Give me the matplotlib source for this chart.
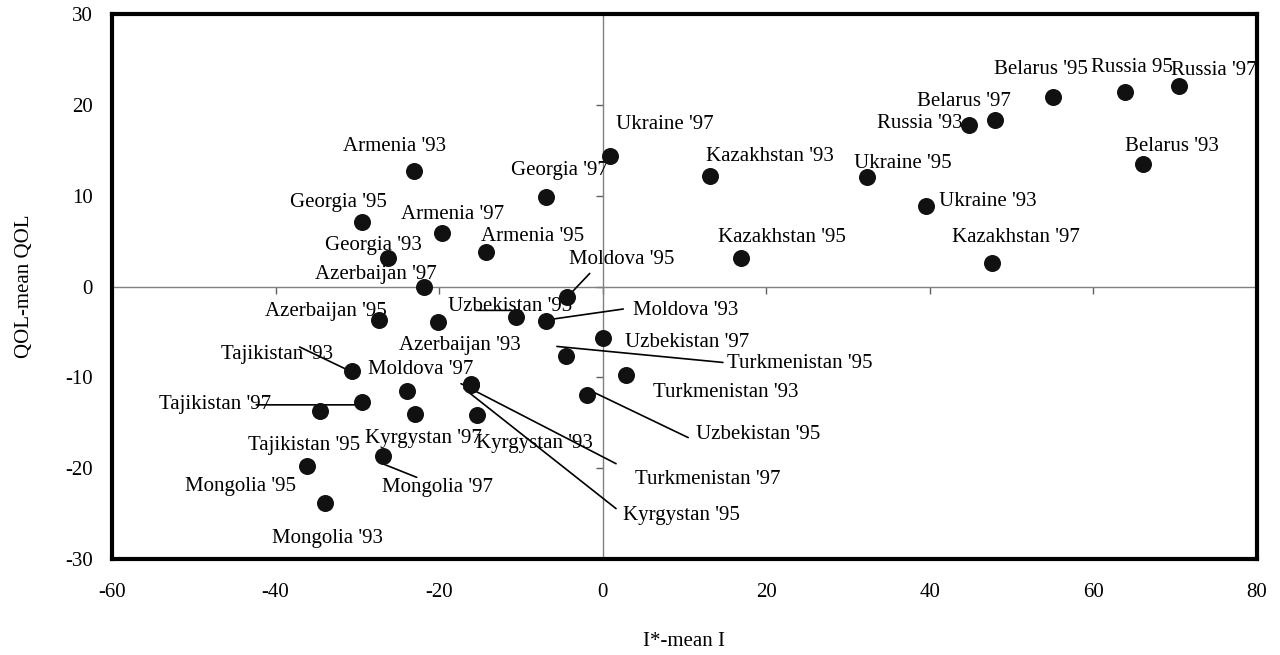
import matplotlib
matplotlib.use("Agg")
import matplotlib.pyplot as plt
import matplotlib.transforms as mtransforms

plt.rcParams['font.family'] = ['Liberation Serif', 'DejaVu Serif']
plt.rcParams['axes.unicode_minus'] = False

# ---- data ----
labels = [
    "Armenia '93", "Ukraine '97", "Georgia '97", "Georgia '95", "Armenia '97",
    "Georgia '93", "Armenia '95", "Azerbaijan '97", "Moldova '95", "Azerbaijan '95",
    "Azerbaijan '93", "Uzbekistan '93", "Moldova '93", "Uzbekistan '97", "Turkmenistan '95",
    "Turkmenistan '93", "Tajikistan '93", "Moldova '97", "Turkmenistan '97", "Kyrgystan '95",
    "Tajikistan '97", "Tajikistan '95", "Kyrgystan '97", "Kyrgystan '93", "Uzbekistan '95",
    "Mongolia '97", "Mongolia '95", "Mongolia '93", "Belarus '95", "Russia 95",
    "Russia '97", "Belarus '97", "Russia '93", "Belarus '93", "Ukraine '95",
    "Ukraine '93", "Kazakhstan '97", "Kazakhstan '93", "Kazakhstan '95",
]
x_vals = [
    -23.1, 0.9, -6.9, -29.4, -19.6,
    -26.2, -14.3, -21.8, -4.4, -27.3,
    -20.2, -10.6, -6.9, 0.0, -4.5,
    2.8, -30.7, -23.9, -16.1, -16.1,
    -29.4, -34.6, -23.0, -15.4, -1.9,
    -26.9, -36.1, -33.9, 55.0, 63.9,
    70.5, 48.0, 44.8, 66.1, 32.3,
    39.5, 47.6, 13.1, 16.9,
]
y_vals = [
    12.7, 14.4, 9.8, 7.1, 5.9,
    3.1, 3.8, -0.1, -1.2, -3.7,
    -3.9, -3.4, -3.8, -5.7, -7.7,
    -9.7, -9.3, -11.5, -10.7, -10.8,
    -12.7, -13.7, -14.0, -14.2, -11.9,
    -18.7, -19.8, -23.8, 20.9, 21.4,
    22.1, 18.3, 17.8, 13.5, 12.1,
    8.9, 2.6, 12.2, 3.1,
]
x_ticks = [-60, -40, -20, 0, 20, 40, 60, 80]
y_ticks = [-30, -20, -10, 0, 10, 20, 30]

# ---- label placement (pixel offsets of label centre from its point, y up) ----
label_offsets = [
    (-19, 25), (55, 31), (13, 27), (-24, 20), (10, 18),
    (-15, 13), (47, 15), (-49, 13), (55, 38), (-54, 9),
    (22, -24), (-6, 11), (139, 11), (84, -4), (234, -7),
    (100, -18), (-75, 16), (13, 21), (237, -96), (210, -131),
    (-147, -3), (-16, -35), (9, -25), (58, -28), (171, -40),
    (55, -31), (-67, -20), (2, -36), (-12, 27), (7, 25),
    (35, 15), (-31, 19), (-49, 1), (29, 17), (36, 13),
    (62, 4), (24, 25), (60, 19), (41, 21),
]
# leader lines: label -> ((start dx, dy), (end dx, dy)) in pixels relative to point
leaders = {
    "Moldova '95": ((23, 24), (5, 5)),
    "Uzbekistan '93": ((-40, 7), (-4, 7)),
    "Moldova '93": ((77, 12), (7, 2)),
    "Turkmenistan '95": ((157, -6), (-9, 10)),
    "Tajikistan '93": ((-52, 24), (-6, 2)),
    "Tajikistan '97": ((-106, -3), (-6, -3)),
    "Uzbekistan '95": ((101, -43), (3, 4)),
    "Turkmenistan '97": ((145, -80), (-10, 0)),
    "Kyrgystan '95": ((145, -124), (-7, -4)),
    "Mongolia '97": ((34, -21), (-1, -7)),
}

W, H = 1280, 655
fig = plt.figure(figsize=(W / 100, H / 100), dpi=100)
left, right, top, bottom = 112, 1257, 14, 559
rect = [left / W, 1 - bottom / H, (right - left) / W, (bottom - top) / H]

ax = fig.add_axes(rect)
ax.set_xlim(-60, 80)
ax.set_ylim(-30, 30)
for s in ['top', 'right']:
    ax.spines[s].set_visible(False)
ax.spines['left'].set_position(('data', 0))
ax.spines['bottom'].set_position(('data', 0))
for s in ['left', 'bottom']:
    ax.spines[s].set_color('#808080')
    ax.spines[s].set_linewidth(1.0)
ax.set_xticks(x_ticks)
ax.set_yticks(y_ticks)
ax.tick_params(direction='out', length=5, width=1.0, color='#606060',
               labelleft=False, labelbottom=False)
ax.patch.set_visible(False)

# points
ax.scatter(x_vals, y_vals, s=150, color='#111111', zorder=5, linewidths=0)

# labels and leaders
for lab, xv, yv, (dx, dy) in zip(labels, x_vals, y_vals, label_offsets):
    ax.annotate(lab, xy=(xv, yv), xytext=(dx, dy), textcoords='offset pixels',
                ha='center', va='center', fontsize=15, color='black', zorder=3,
                annotation_clip=False)
    if lab in leaders:
        (sx, sy), (ex, ey) = leaders[lab]
        end_tr = mtransforms.offset_copy(ax.transData, fig=fig, x=ex, y=ey,
                                         units='dots')
        ax.annotate('', xy=(xv, yv), xycoords=end_tr,
                    xytext=(sx - ex, sy - ey), textcoords='offset pixels',
                    arrowprops=dict(arrowstyle='-', lw=1.2, color='black',
                                    shrinkA=0, shrinkB=0),
                    zorder=4, annotation_clip=False)

# outer frame with edge tick labels
ax2 = fig.add_axes(rect, sharex=ax, sharey=ax)
ax2.patch.set_visible(False)
for s in ax2.spines.values():
    s.set_linewidth(3.0)
    s.set_color('black')
ax2.tick_params(length=0, labelsize=15, pad=14)
ax2.tick_params(axis='x', pad=17)
ax2.set_xticks(x_ticks)
ax2.set_yticks(y_ticks)
ax2.set_xticklabels([str(t) for t in x_ticks])
ax2.set_yticklabels([str(t) for t in y_ticks])

fig.text(25 / W, 1 - 286.5 / H, 'QOL-mean QOL', rotation=90, ha='center',
         va='center', fontsize=15)
fig.text(684 / W, 1 - 642 / H, 'I*-mean I', ha='center', va='center', fontsize=15)

fig.savefig('out.png', dpi=100)
